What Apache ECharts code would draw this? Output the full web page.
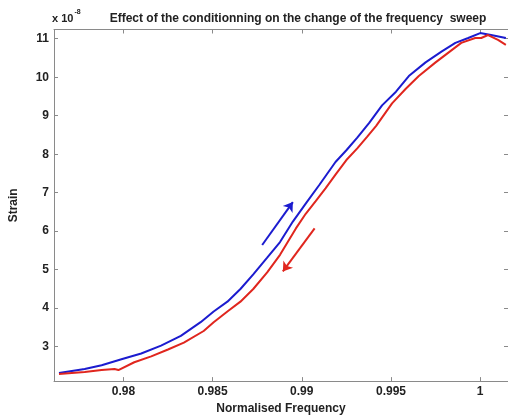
<!DOCTYPE html>
<html><head><meta charset="utf-8">
<script src="https://cdn.jsdelivr.net/npm/echarts@6/dist/echarts.min.js"></script>
<style>html,body{margin:0;padding:0;background:#fff}#c{width:508px;height:420px}</style>
</head><body><div id="c"></div>
<script>
const xTicks = [0.98, 0.985, 0.99, 0.995, 1];
const yTicks = [3, 4, 5, 6, 7, 8, 9, 10, 11];
const freqUp = [0.97639,0.97711,0.97783,0.97878,0.97989,0.98100,0.98211,0.98322,0.98433,0.98506,0.98583,0.98656,0.98728,0.98806,0.98878,0.98950,0.99028,0.99100,0.99189,0.99250,0.99311,0.99378,0.99450,0.99528,0.99600,0.99694,0.99783,0.99861,0.99933,1.00000,1.00061,1.00144];
const strainUp = [2.315,2.365,2.416,2.518,2.670,2.822,3.025,3.279,3.635,3.914,4.168,4.497,4.878,5.310,5.716,6.249,6.756,7.213,7.797,8.102,8.431,8.812,9.269,9.624,10.030,10.386,10.665,10.893,11.020,11.147,11.096,11.020];
const freqDown = [0.97639,0.97783,0.97878,0.97950,0.97972,0.98061,0.98156,0.98250,0.98339,0.98450,0.98506,0.98583,0.98656,0.98728,0.98806,0.98878,0.98967,0.99022,0.99078,0.99133,0.99189,0.99250,0.99311,0.99367,0.99417,0.99506,0.99583,0.99656,0.99750,0.99822,0.99894,0.99972,1.00006,1.00044,1.00100,1.00144];
const strainDown = [2.289,2.340,2.391,2.416,2.391,2.594,2.746,2.924,3.102,3.406,3.635,3.914,4.168,4.497,4.929,5.386,6.071,6.452,6.782,7.112,7.467,7.848,8.152,8.457,8.736,9.320,9.701,10.030,10.386,10.640,10.893,11.020,11.020,11.096,10.970,10.843];
const arrowUp = [[0.98778, 5.640], [0.98950, 6.756]];
const arrowDown = [[0.99072, 6.071], [0.98894, 4.954]];

const zip = (a, b) => a.map((v, i) => [v, b[i]]);
const xMin = 0.97611, xMax = 1.00156, yMin = 2.104, yMax = 11.24;
const axisColor = '#8a8a8a';
const labelStyle = { color: '#222', fontFamily: 'Liberation Sans, Arial', fontWeight: 'bold', fontSize: 12 };

const chart = echarts.init(document.getElementById('c'), null, { renderer: 'canvas' });
chart.setOption({
  animation: false,
  backgroundColor: '#fff',
  title: {
    text: 'Effect of the conditionning on the change of the frequency  sweep',
    left: 293, top: 8, textAlign: 'center',
    textStyle: { color: '#222', fontFamily: 'Liberation Sans, Arial', fontWeight: 'bold', fontSize: 12 }
  },
  graphic: [{
    type: 'text', left: 52, top: 9,
    style: {
      text: '{a|x 10}{b|-8}',
      rich: {
        a: { fontFamily: 'Liberation Sans, Arial', fontWeight: 'bold', fontSize: 11, fill: '#222', verticalAlign: 'bottom' },
        b: { fontFamily: 'Liberation Sans, Arial', fontWeight: 'bold', fontSize: 7, fill: '#222', verticalAlign: 'top', padding: [0,0,8,1] }
      }
    }
  }],
  grid: { left: 52, top: 29.5, width: 458, height: 359.8, show: false },
  xAxis: [{
    type: 'value', position: 'bottom', min: xMin, max: xMax,
    name: 'Normalised Frequency', nameLocation: 'middle', nameGap: 20,
    nameTextStyle: labelStyle,
    axisLine: { show: true, lineStyle: { color: axisColor, width: 1 } },
    axisTick: { show: true, inside: true, length: 4, customValues: xTicks, lineStyle: { color: axisColor } },
    axisLabel: { show: true, customValues: xTicks, margin: 5, formatter: v => String(+(+v).toFixed(3)), ...labelStyle },
    splitLine: { show: false }
  }, {
    type: 'value', position: 'top', min: xMin, max: xMax,
    axisLine: { show: true, lineStyle: { color: axisColor, width: 1 } },
    axisTick: { show: true, inside: true, length: 4, customValues: xTicks, lineStyle: { color: axisColor } },
    axisLabel: { show: false }, splitLine: { show: false }
  }],
  yAxis: [{
    type: 'value', position: 'left', min: yMin, max: yMax,
    name: 'Strain', nameLocation: 'middle', nameGap: 34, nameRotate: 90,
    nameTextStyle: labelStyle,
    axisLine: { show: true, lineStyle: { color: axisColor, width: 1 } },
    axisTick: { show: true, inside: true, length: 4, customValues: yTicks, lineStyle: { color: axisColor } },
    axisLabel: { show: true, customValues: yTicks, margin: 5, ...labelStyle },
    splitLine: { show: false }
  }, {
    type: 'value', position: 'right', min: yMin, max: yMax,
    axisLine: { show: true, lineStyle: { color: axisColor, width: 1 } },
    axisTick: { show: true, inside: true, length: 4, customValues: yTicks, lineStyle: { color: axisColor } },
    axisLabel: { show: false }, splitLine: { show: false }
  }],
  series: [{
    type: 'line', name: 'up', data: zip(freqUp, strainUp), showSymbol: false,
    lineStyle: { color: '#1c1ccf', width: 2 }, itemStyle: { color: '#1c1ccf' }
  }, {
    type: 'line', name: 'down', data: zip(freqDown, strainDown), showSymbol: false,
    lineStyle: { color: '#e0261e', width: 2 }, itemStyle: { color: '#e0261e' }
  }, {
    type: 'lines', coordinateSystem: 'cartesian2d', symbol: ['none', 'arrow'], symbolSize: 9,
    lineStyle: { color: '#1c1ccf', width: 2, opacity: 1 },
    data: [{ coords: arrowUp }]
  }, {
    type: 'lines', coordinateSystem: 'cartesian2d', symbol: ['none', 'arrow'], symbolSize: 9,
    lineStyle: { color: '#e0261e', width: 2, opacity: 1 },
    data: [{ coords: arrowDown }]
  }]
});
</script>
</body></html>
